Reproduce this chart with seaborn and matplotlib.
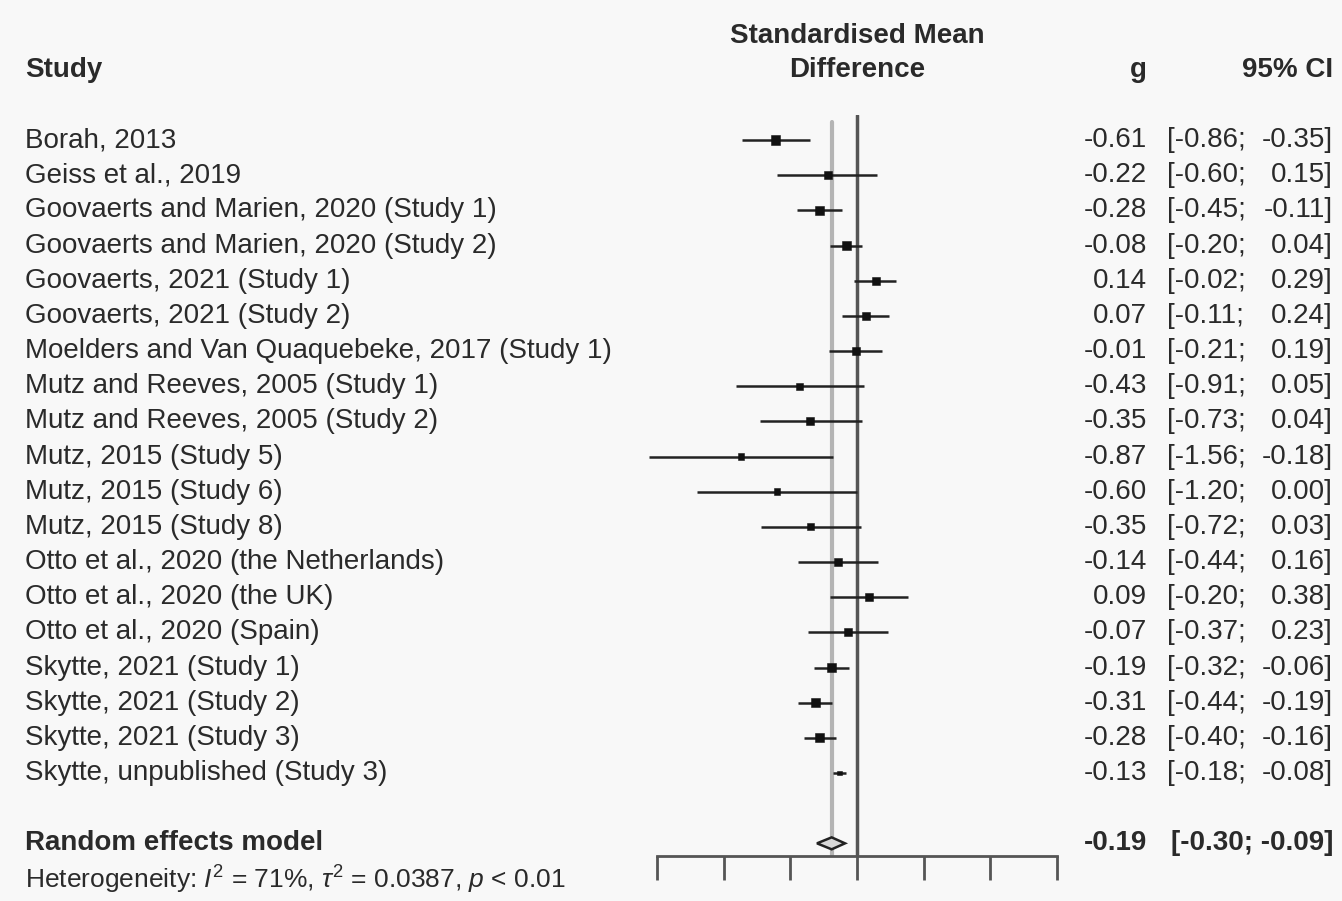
import numpy as np
import pandas as pd
import matplotlib.pyplot as plt
import matplotlib.transforms as mtransforms
import seaborn as sns

studies = [
    "Borah, 2013",
    "Geiss et al., 2019",
    "Goovaerts and Marien, 2020 (Study 1)",
    "Goovaerts and Marien, 2020 (Study 2)",
    "Goovaerts, 2021 (Study 1)",
    "Goovaerts, 2021 (Study 2)",
    "Moelders and Van Quaquebeke, 2017 (Study 1)",
    "Mutz and Reeves, 2005 (Study 1)",
    "Mutz and Reeves, 2005 (Study 2)",
    "Mutz, 2015 (Study 5)",
    "Mutz, 2015 (Study 6)",
    "Mutz, 2015 (Study 8)",
    "Otto et al., 2020 (the Netherlands)",
    "Otto et al., 2020 (the UK)",
    "Otto et al., 2020 (Spain)",
    "Skytte, 2021 (Study 1)",
    "Skytte, 2021 (Study 2)",
    "Skytte, 2021 (Study 3)",
    "Skytte, unpublished (Study 3)",
]
g = [-0.61, -0.22, -0.28, -0.08, 0.14, 0.07, -0.01, -0.43, -0.35, -0.87,
     -0.60, -0.35, -0.14, 0.09, -0.07, -0.19, -0.31, -0.28, -0.13]
lower = [-0.86, -0.60, -0.45, -0.20, -0.02, -0.11, -0.21, -0.91, -0.73, -1.56,
         -1.20, -0.72, -0.44, -0.20, -0.37, -0.32, -0.44, -0.40, -0.18]
upper = [-0.35, 0.15, -0.11, 0.04, 0.29, 0.24, 0.19, 0.05, 0.04, -0.18,
         0.00, 0.03, 0.16, 0.38, 0.23, -0.06, -0.19, -0.16, -0.08]
weight = [6.5, 5.5, 6.0, 6.0, 5.5, 5.5, 5.0, 4.5, 5.0, 4.0,
          4.0, 4.5, 5.0, 5.0, 5.0, 6.0, 6.0, 6.0, 3.0]
re_label = "Random effects model"
re_g, re_lo, re_hi = -0.19, -0.30, -0.09
het_text = r"Heterogeneity: $I^2$ = 71%, $\tau^2$ = 0.0387, $p$ < 0.01"
xticks = [-1.5, -1.0, -0.5, 0.0, 0.5, 1.0, 1.5]

df = pd.DataFrame({"study": studies, "g": g, "lower": lower,
                   "upper": upper, "weight": weight})
df["row"] = np.arange(len(df))

sns.set_style("white")
plt.rcParams["font.family"] = ["Liberation Sans", "DejaVu Sans"]
plt.rcParams["mathtext.fontset"] = "custom"
plt.rcParams["mathtext.rm"] = "Liberation Sans"
plt.rcParams["mathtext.it"] = "Liberation Sans:italic"

bg = "#f8f8f8"
txt = "#2a2a2a"
fig = plt.figure(figsize=(13.42, 9.01), dpi=100, facecolor=bg)
ax = fig.add_axes([640 / 1342, 45 / 901, 435 / 1342, 741 / 901])
ax.set_facecolor(bg)
ax.set_xlim(-1.6275, 1.635)
ax.set_ylim(20.36, -0.711)

# reference lines
ax.axvline(re_g, ymin=0, ymax=0.99, color="#b4b4b4", lw=3, zorder=1)
ax.axvline(0, color="#555555", lw=2.5, zorder=1)

# confidence intervals and study squares
ax.hlines(df["row"], df["lower"], df["upper"], color="#222222", lw=1.8, zorder=2)
sns.scatterplot(data=df, x="g", y="row", marker="s", size="weight",
                sizes=(12, 45), color="#111111", edgecolor="#111111",
                legend=False, ax=ax, zorder=3)

# summary diamond
re_row = len(df) + 1
ax.fill([re_lo, re_g, re_hi, re_g], [re_row, re_row - 0.17, re_row, re_row + 0.17],
        facecolor="#d8d8d8", edgecolor="#222222", lw=1.8, zorder=3)

for side in ["top", "left", "right"]:
    ax.spines[side].set_visible(False)
ax.spines["bottom"].set_bounds(-1.5, 1.5)
ax.spines["bottom"].set_color("#555555")
ax.spines["bottom"].set_linewidth(2)
ax.set_xticks(xticks)
ax.set_yticks([])
ax.tick_params(axis="x", direction="out", length=17, width=2, color="#555555",
               labelbottom=False, bottom=True)
ax.set_xlabel("")
ax.set_ylabel("")

# text columns
tr = mtransforms.blended_transform_factory(fig.transFigure, ax.transData)
fs = 20
x_study = 25 / 1342
x_g = 1147 / 1342
x_ci_l = 1167 / 1342
x_ci = 1333 / 1342
x_mid = 857 / 1342

ax.text(x_study, -2, "Study", transform=tr, ha="left", va="center",
        fontsize=fs, fontweight="bold", color=txt, clip_on=False)
ax.text(x_mid, -2.95, "Standardised Mean", transform=tr, ha="center", va="center",
        fontsize=fs, fontweight="bold", color=txt, clip_on=False)
ax.text(x_mid, -2, "Difference", transform=tr, ha="center", va="center",
        fontsize=fs, fontweight="bold", color=txt, clip_on=False)
ax.text(x_g, -2, "g", transform=tr, ha="right", va="center",
        fontsize=fs, fontweight="bold", color=txt, clip_on=False)
ax.text(x_ci, -2, "95% CI", transform=tr, ha="right", va="center",
        fontsize=fs, fontweight="bold", color=txt, clip_on=False)

for _, r in df.iterrows():
    ax.text(x_study, r["row"], r["study"], transform=tr, ha="left", va="center",
            fontsize=fs, color=txt, clip_on=False)
    ax.text(x_g, r["row"], f"{r['g']:.2f}", transform=tr, ha="right",
            va="center", fontsize=fs, color=txt, clip_on=False)
    ax.text(x_ci_l, r["row"], f"[{r['lower']:.2f};", transform=tr, ha="left",
            va="center", fontsize=fs, color=txt, clip_on=False)
    ax.text(x_ci, r["row"], f"{r['upper']:.2f}]", transform=tr, ha="right",
            va="center", fontsize=fs, color=txt, clip_on=False)

ax.text(x_study, re_row, re_label, transform=tr, ha="left", va="center",
        fontsize=fs, fontweight="bold", color=txt, clip_on=False)
ax.text(x_g, re_row, f"{re_g:.2f}", transform=tr, ha="right", va="center",
        fontsize=fs, fontweight="bold", color=txt, clip_on=False)
ax.text(x_ci, re_row, f"[{re_lo:.2f}; {re_hi:.2f}]", transform=tr, ha="right",
        va="center", fontsize=fs, fontweight="bold", color=txt, clip_on=False)
ax.text(x_study, re_row + 1.05, het_text, transform=tr, ha="left", va="center",
        fontsize=19, color=txt, clip_on=False)

fig.savefig("out.png", dpi=100, facecolor=bg)
